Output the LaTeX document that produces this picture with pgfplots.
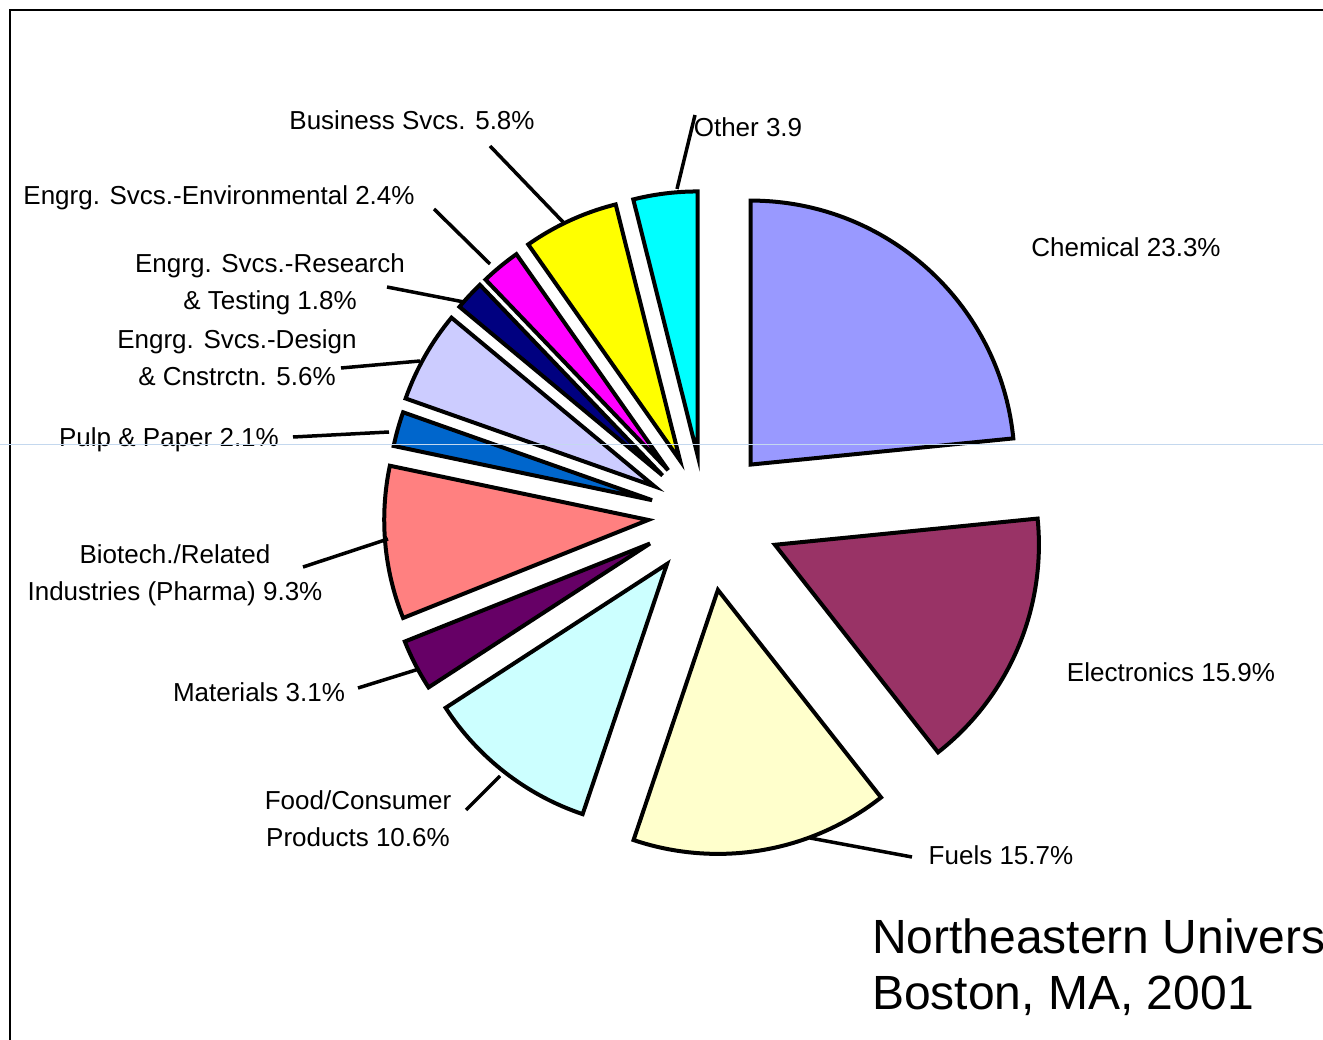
\documentclass[border=0pt]{standalone}
\usepackage{pgfplots}
\usepackage{pgfplotstable}
\pgfplotsset{compat=1.18}
\usepackage{fontspec}
\setmainfont{Liberation Sans}

\definecolor{cChem}{HTML}{9999FF}
\definecolor{cElec}{HTML}{993366}
\definecolor{cFuel}{HTML}{FFFFCC}
\definecolor{cFood}{HTML}{CCFFFF}
\definecolor{cMat}{HTML}{660066}
\definecolor{cBio}{HTML}{FF8080}
\definecolor{cPulp}{HTML}{0066CC}
\definecolor{cDes}{HTML}{CCCCFF}
\definecolor{cRes}{HTML}{000080}
\definecolor{cEnv}{HTML}{FF00FF}
\definecolor{cBus}{HTML}{FFFF00}
\definecolor{cOth}{HTML}{00FFFF}
\definecolor{cGuide}{HTML}{C4D8EE}

% share (%), explode distance, colour
\pgfplotstableread{
name      val   expl  col
Chemical  23.3  68    cChem
Electron  15.9  76    cElec
Fuels     15.7  76    cFuel
Food      10.6  62    cFood
Materials 3.1   62    cMat
Biotech   9.3   57    cBio
Pulp      2.1   55    cPulp
Design    5.6   58    cDes
Research  1.8   58    cRes
Environ   2.4   58    cEnv
Business  5.8   60    cBus
Other     3.9   60    cOth
}\slices

\begin{document}
\begin{tikzpicture}
\begin{axis}[
  name=ax,
  scale only axis,
  width=1323pt, height=1040pt,
  xmin=0, xmax=1323, ymin=0, ymax=1040,
  y dir=reverse,
  hide axis,
  clip=false,
]
\addplot[draw=none] coordinates {(0,0) (1323,1040)};

\pgfplotstablegetrowsof{\slices}
\pgfmathtruncatemacro\nrows{\pgfplotsretval-1}
\gdef\cumsum{0}
\pgfplotsforeachungrouped \i in {0,...,\nrows}{%
  \pgfplotstablegetelem{\i}{val}\of\slices \let\sval\pgfplotsretval
  \pgfplotstablegetelem{\i}{expl}\of\slices \let\sexp\pgfplotsretval
  \pgfplotstablegetelem{\i}{col}\of\slices \let\scol\pgfplotsretval
  \pgfmathsetmacro\aone{90-\cumsum/99.5*360}%
  \pgfmathsetmacro\atwo{90-(\cumsum+\sval)/99.5*360}%
  \pgfmathsetmacro\amid{(\aone+\atwo)/2}%
  \pgfmathsetmacro\apx{705+\sexp*cos(\amid)}%
  \pgfmathsetmacro\apy{515-\sexp*sin(\amid)}%
  \pgfmathsetmacro\cumnew{\cumsum+\sval}%
  \global\let\cumsum\cumnew
  \edef\doslice{\noexpand\filldraw[fill=\scol,draw=black,line width=4pt]
    (axis cs:\apx,\apy) -- ++(\aone:264pt)
    arc[start angle=\aone,end angle=\atwo,radius=264pt] -- cycle;}%
  \doslice
}

% leader lines
\begin{scope}[line width=3.5pt]
\draw (axis cs:490,146) -- (axis cs:563,222);
\draw (axis cs:695,115) -- (axis cs:677,189);
\draw (axis cs:434,209) -- (axis cs:490,264);
\draw (axis cs:387,287) -- (axis cs:464,302);
\draw (axis cs:341,368) -- (axis cs:420,361);
\draw (axis cs:293,437) -- (axis cs:389,432);
\draw (axis cs:303,567) -- (axis cs:388,539);
\draw (axis cs:358,688) -- (axis cs:419,669);
\draw (axis cs:466,810) -- (axis cs:500,776);
\draw (axis cs:810,838) -- (axis cs:912,857);
\end{scope}

% labels
\begin{scope}[every node/.style={font=\fontsize{26}{37}\selectfont, align=center, inner sep=0pt}]
\node at (axis cs:412,120) {Business Svcs. 5.8\%};
\node at (axis cs:748,127) {Other 3.9};
\node at (axis cs:219,198) {Engrg. Svcs.-Environmental 2.4\%};
\node at (axis cs:270,284) {Engrg. Svcs.-Research\\\& Testing 1.8\%};
\node at (axis cs:237,358) {Engrg. Svcs.-Design\\\& Cnstrctn. 5.6\%};
\node at (axis cs:169,440) {Pulp \& Paper 2.1\%};
\node at (axis cs:175,575) {Biotech./Related\\Industries (Pharma) 9.3\%};
\node at (axis cs:259,692) {Materials 3.1\%};
\node at (axis cs:358,819) {Food/Consumer\\Products 10.6\%};
\node at (axis cs:1001,855) {Fuels 15.7\%};
\node at (axis cs:1171,672) {Electronics 15.9\%};
\node at (axis cs:1126,247) {Chemical 23.3\%};
\end{scope}

\node[anchor=base west, inner sep=0pt, font=\fontsize{48}{56}\selectfont] at (axis cs:872,953) {Northeastern University};
\node[anchor=base west, inner sep=0pt, font=\fontsize{48}{56}\selectfont] at (axis cs:872,1009) {Boston, MA, 2001};

% frame
\draw[line width=2.5pt] (axis cs:10,1040) -- (axis cs:10,10) -- (axis cs:1323,10);
% faint guide line
\draw[cGuide, line width=1pt] (axis cs:0,445) -- (axis cs:1323,445);
\end{axis}
\pgfresetboundingbox
\path (ax.south west) rectangle (ax.north east);
\end{tikzpicture}
\end{document}
